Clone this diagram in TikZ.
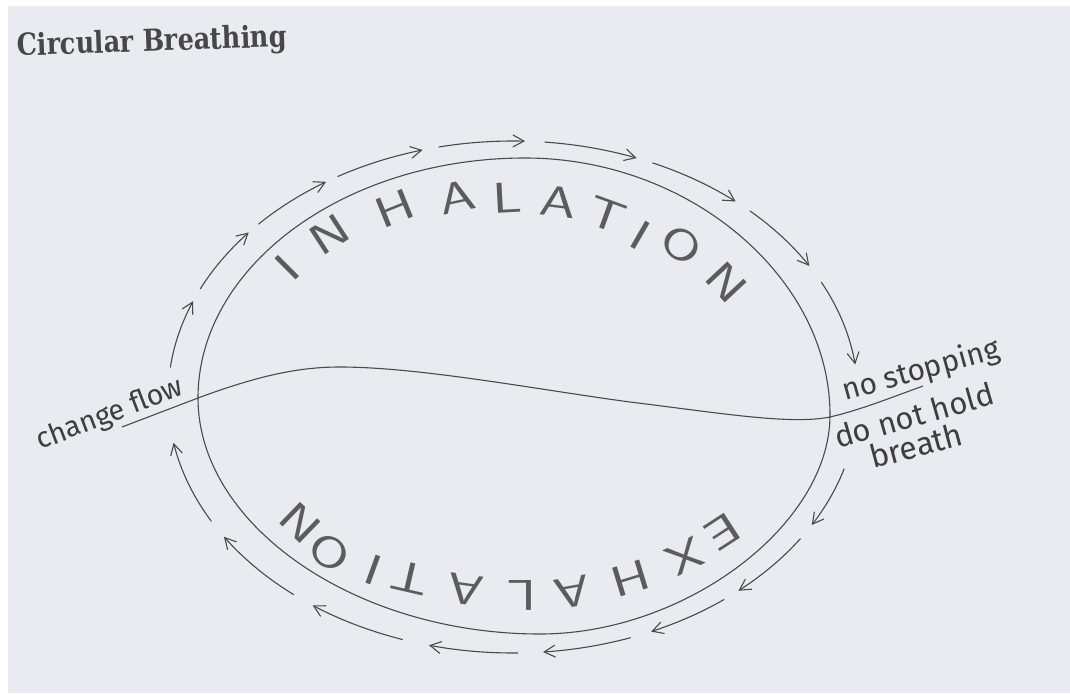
\documentclass[tikz,border=0pt]{standalone}
\usepackage{fontspec}
\usepackage{graphicx}
\usetikzlibrary{arrows.meta}
\newfontfamily\handfont{Fira Sans}
\newfontfamily\titlefont{DejaVu Serif}
\definecolor{paper}{HTML}{EAEAF1}
\definecolor{ink}{HTML}{4A4A4A}
\definecolor{capink}{HTML}{5C5C5C}
\definecolor{handink}{HTML}{3E3E3E}
\definecolor{titleink}{HTML}{474747}
\newcommand\oarc[2]{\draw[flow] plot[domain=#1:#2,samples=30] ({513+345*cos(\x)},{397-256*sin(\x)});}
\newcommand\lt[4]{\node[capl, rotate=#4] (#1) at (#2) {\scalebox{1.35}[1]{#3}};}
\begin{document}
\begin{tikzpicture}[x=1pt,y=-1pt,
  flow/.style={draw=ink, line width=1.1pt, line cap=round, -{Straight Barb[length=11pt,width=12pt]}},
  curve/.style={draw=ink, line width=1.1pt},
  capl/.style={text=capink, inner sep=0pt, font=\sffamily\fontsize{43}{43}\selectfont},
  hand/.style={text=handink, inner sep=0pt, anchor=base west, font=\handfont},
]
\fill[white] (0,0) rectangle (1070,693);
\fill[paper] (8,6) rectangle (1070,693);
\useasboundingbox (0,0) rectangle (1070,693);

% title
\node[anchor=base west, rotate=2, text=titleink, inner sep=0pt] (title) at (17,56)
  {\resizebox{270pt}{23pt}{\titlefont\bfseries Circular Breathing}};

% inner loop
\draw[curve] (198,398) .. controls (198,266) and (345,158) .. (525,158)
  .. controls (690,158) and (830,278) .. (830,415)
  .. controls (830,525) and (685,634) .. (540,634)
  .. controls (355,634) and (198,525) .. cycle;

% dividing wavy line
\coordinate (cfEnd) at (122,427);
\coordinate (nsEnd) at (923,386);
\draw[curve] (cfEnd) -- (198,398)
  .. controls (260,375) and (300,367) .. (340,367)
  .. controls (420,367) and (540,390) .. (630,402)
  .. controls (720,413) and (790,425) .. (830,417)
  .. controls (860,410) and (890,398) .. (nsEnd);

% outer flow arrows
\oarc{173.3}{158}
\oarc{155}{140}
\oarc{137.5}{122.8}
\oarc{120.5}{105.2}
\oarc{102.4}{88}
\oarc{84.7}{69}
\oarc{66.1}{49.8}
\oarc{46.6}{30.8}
\oarc{26.6}{7.3}
\oarc{-16.3}{-30}
\oarc{-33.6}{-49.2}
\oarc{-52.3}{-66.4}
\oarc{-70.1}{-85}
\oarc{-89.2}{-104.1}
\oarc{-108.7}{-125.5}
\oarc{-129.5}{-146.9}
\oarc{-151}{-169.7}

% INHALATION
\lt{i1}{287,268}{I}{45}
\lt{n1}{330,235}{N}{33}
\lt{h1}{395,208}{H}{22}
\lt{a1}{457,197}{A}{12}
\lt{l1}{507,198}{L}{3}
\lt{a2}{558,202}{A}{-7}
\lt{t1}{607,215}{T}{-20}
\lt{i2}{640,235}{I}{-30}
\lt{o1}{682,245}{O}{-38}
\lt{n2}{727,282}{N}{-47}

% EXHALATION (upside down)
\lt{e2}{723,532}{E}{213}
\lt{x2}{685,557}{X}{206}
\lt{h2}{630,578}{H}{197}
\lt{a3}{572,592}{A}{190}
\lt{l2}{522,595}{L}{180}
\lt{a4}{465,590}{A}{172}
\lt{t2}{410,578}{T}{167}
\lt{i3}{373,570}{I}{160}
\lt{o2}{330,552}{O}{148}
\lt{n3}{300,523}{N}{136}

% hand-written notes
\node[hand, rotate=21] (chg) at (40,450) {\resizebox{155pt}{!}{change flow}};
\node[hand, rotate=15.5] (nostop) at (845,401) {\resizebox{162pt}{!}{no stopping}};
\node[hand, rotate=16] (hold) at (838,449) {\resizebox{164pt}{!}{do not hold}};
\node[hand, rotate=15] (breath) at (873,469) {\resizebox{95pt}{!}{breath}};
\end{tikzpicture}
\end{document}
